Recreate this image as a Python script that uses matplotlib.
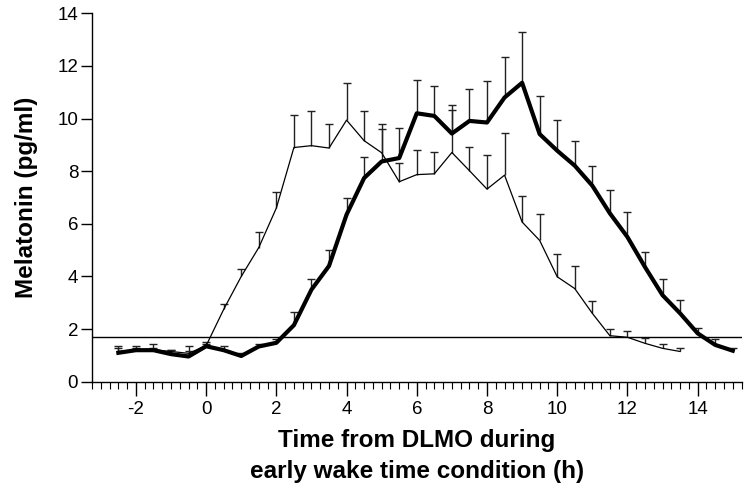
import matplotlib
matplotlib.use("Agg")
import matplotlib.pyplot as plt
import numpy as np
from matplotlib.ticker import MultipleLocator

plt.rcParams['font.family'] = ['Liberation Sans', 'DejaVu Sans']
plt.rcParams['axes.unicode_minus'] = False

# Time from DLMO (h)
time_thin = np.arange(-2.5, 13.51, 0.5)
time_thick = np.arange(-2.5, 15.01, 0.5)

mean_thin = [1.15, 1.22, 1.22, 1.15, 1.08, 1.37, 2.75, 4.0, 5.1, 6.6, 8.9, 8.97, 8.88,
             9.94, 9.16, 8.7, 7.6, 7.87, 7.9, 8.71, 8.02, 7.32, 7.85, 6.07, 5.37, 3.99,
             3.54, 2.6, 1.75, 1.69, 1.46, 1.27, 1.15]
cap_thin = [1.37, 1.37, 1.43, 1.21, 1.37, 1.5, 2.95, 4.3, 5.7, 7.2, 10.15, 10.27, 9.81,
            11.36, 10.27, 9.6, 8.32, 8.8, 8.72, 10.32, 8.93, 8.61, 9.46, 7.07, 6.38, 4.87,
            4.39, 3.08, 2.0, 1.93, 1.68, 1.43, 1.3]

mean_thick = [1.1, 1.2, 1.2, 1.05, 0.96, 1.35, 1.2, 0.98, 1.34, 1.48, 2.15, 3.5, 4.4,
              6.35, 7.74, 8.37, 8.5, 10.2, 10.1, 9.43, 9.91, 9.85, 10.8, 11.36, 9.41, 8.78,
              8.21, 7.45, 6.4, 5.5, 4.36, 3.29, 2.6, 1.84, 1.4, 1.18]
cap_thick = [1.3, 1.3, 1.3, 1.2, 1.15, 1.45, 1.34, 1.09, 1.44, 1.62, 2.64, 3.92, 5.02,
             6.98, 8.53, 9.8, 9.64, 11.45, 11.24, 10.51, 11.14, 11.43, 12.35, 13.3, 10.86, 9.95,
             9.16, 8.21, 7.29, 6.46, 4.93, 3.92, 3.1, 2.05, 1.63, 1.3]

threshold = 1.7

fig = plt.figure(figsize=(7.5, 5.01), dpi=100)
ax = fig.add_axes([0.1227, 0.238, 0.866, 0.7355])

ax.axhline(threshold, color='black', lw=1.0, zorder=1)

# upper-only error bars (mean -> mean + SEM) with a cap at the top
for t, m, c in [(time_thin, mean_thin, cap_thin), (time_thick, mean_thick, cap_thick)]:
    ax.vlines(t, m, c, color='#222222', lw=1.0, zorder=2)
    ax.plot(t, c, ls='none', marker='_', ms=6, mew=1.0, color='#222222', zorder=2)

ax.plot(time_thin, mean_thin, color='black', lw=0.9, zorder=3)
ax.plot(time_thick, mean_thick, color='black', lw=3.0, zorder=4,
        solid_joinstyle='round')

ax.set_xlim(-3.25, 15.25)
ax.set_ylim(0, 14)
ax.set_yticks(np.arange(0, 15, 2))
ax.set_xticks(np.arange(-2, 15, 2))
ax.xaxis.set_minor_locator(MultipleLocator(0.25))

for s in ['top', 'right']:
    ax.spines[s].set_visible(False)
ax.spines['left'].set_linewidth(1.0)
ax.spines['bottom'].set_linewidth(1.0)

ax.tick_params(axis='y', which='major', direction='out', length=8, width=1.0,
               labelsize=13.5, pad=2)
ax.tick_params(axis='x', which='major', direction='out', length=10, width=1.0,
               labelsize=13.5, pad=4)
ax.tick_params(axis='x', which='minor', direction='out', length=5, width=0.8)

ax.set_ylabel('Melatonin (pg/ml)', fontsize=17.5, fontweight='bold', labelpad=14)
ax.set_xlabel('Time from DLMO during\nearly wake time condition (h)', fontsize=17.5,
              fontweight='bold', labelpad=8, linespacing=1.4)

fig.savefig('out.png', dpi=100)
